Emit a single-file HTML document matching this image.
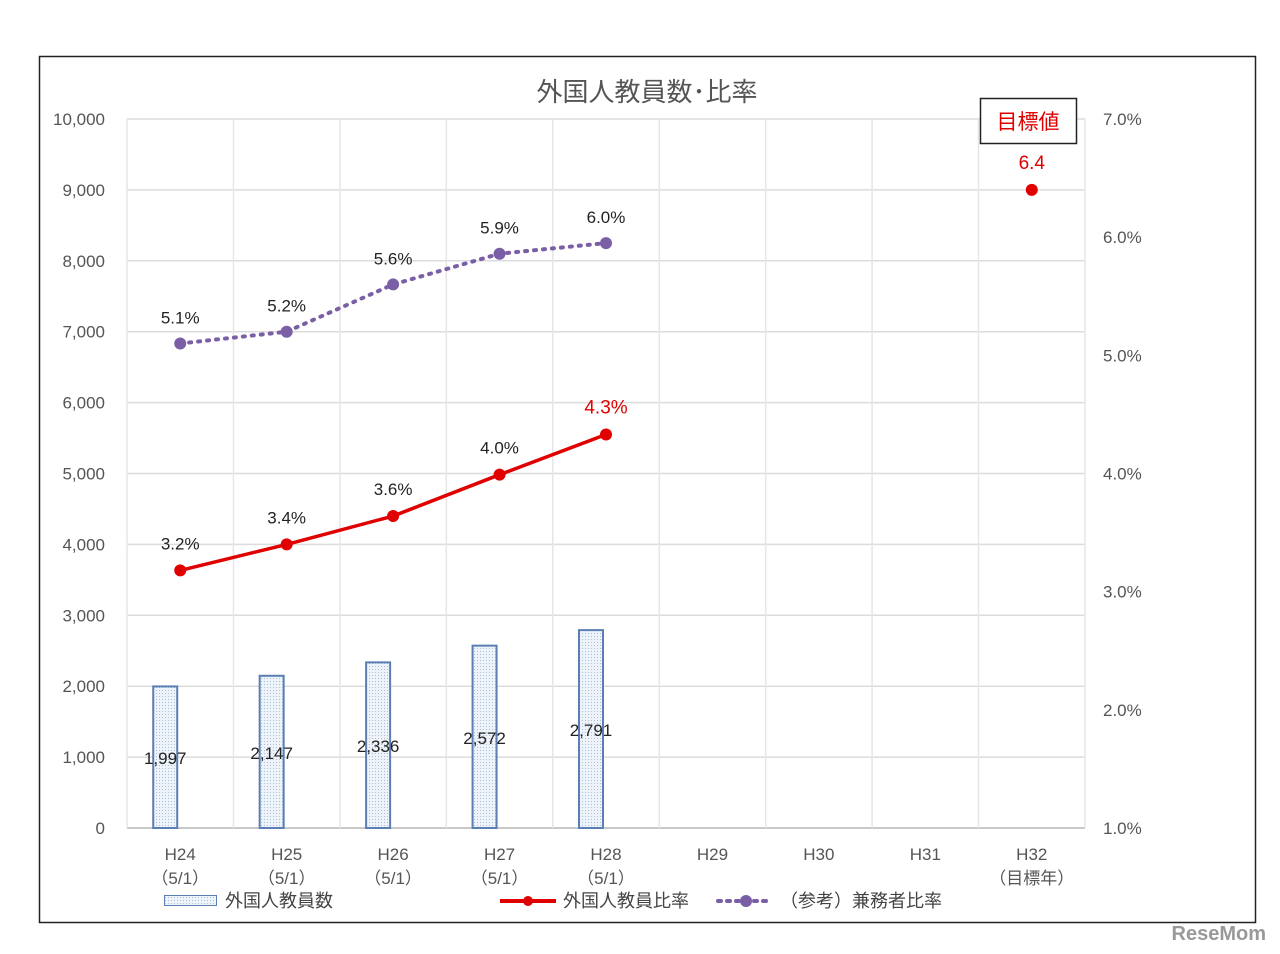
<!DOCTYPE html>
<html><head><meta charset="utf-8">
<style>
html,body{margin:0;padding:0;background:#fff;}
svg{display:block;font-family:"Liberation Sans","Noto Sans CJK JP",sans-serif;}
</style></head>
<body>
<svg id="chart" width="1280" height="954" viewBox="0 0 1280 954">
<defs>
<pattern id="dots" width="3" height="3" patternUnits="userSpaceOnUse">
<rect width="3" height="3" fill="#eef3f9"/>
<rect width="1" height="1" fill="#a9bfdc"/>
</pattern>
</defs>
<rect x="39.5" y="56.5" width="1216" height="866" fill="#fff" stroke="#222" stroke-width="1.5"/>
<text x="647" y="101" font-size="26" fill="#555" text-anchor="middle">外国人教員数･比率</text>
<g id="grid"></g>
<g id="bars"></g>
<g id="lines"></g>
<g id="labels"></g>
<rect x="980.5" y="98.5" width="96" height="45" fill="#fff" stroke="#222" stroke-width="1.5"/>
<text x="1028" y="129" font-size="21" fill="#e00000" text-anchor="middle">目標値</text>
<g>
<rect x="164.5" y="895.5" width="52" height="10" fill="url(#dots)" stroke="#5b7fb4"/>
<text x="225" y="907" font-size="18" fill="#444">外国人教員数</text>
<line x1="500" y1="901" x2="556" y2="901" stroke="#e00000" stroke-width="4"/>
<circle cx="528" cy="901" r="5" fill="#e00000"/>
<text x="563" y="907" font-size="18" fill="#444">外国人教員比率</text>
<line x1="718" y1="901" x2="772" y2="901" stroke="#7b5fa6" stroke-width="4" stroke-dasharray="3,6" stroke-linecap="round"/>
<circle cx="746" cy="901" r="6" fill="#7b5fa6"/>
<text x="780" y="907" font-size="18" fill="#444">（参考）兼務者比率</text>
</g>
<text x="1266" y="940" font-size="20" font-weight="bold" fill="#999" text-anchor="end">ReseMom</text>
</svg>
<script>
const categories=["H24","H25","H26","H27","H28","H29","H30","H31","H32"];
const subLabels=["（5/1）","（5/1）","（5/1）","（5/1）","（5/1）","","","","（目標年）"];
const teacherCounts=[1997,2147,2336,2572,2791];
const countLabels=["1,997","2,147","2,336","2,572","2,791"];
const teacherRatio=[3.18,3.40,3.64,3.99,4.33];
const teacherRatioLabels=["3.2%","3.4%","3.6%","4.0%","4.3%"];
const concurrentRatio=[5.10,5.20,5.60,5.86,5.95];
const concurrentRatioLabels=["5.1%","5.2%","5.6%","5.9%","6.0%"];
const targetRatio=6.4;
const leftTicks=[0,1000,2000,3000,4000,5000,6000,7000,8000,9000,10000];
const rightTicks=[1,2,3,4,5,6,7];

const X0=127,X1=1085,YB=828,YT=119;
const step=(X1-X0)/categories.length;
const xc=i=>X0+step*(i+0.5);
const yL=v=>YB-(v/10000)*(YB-YT);
const yR=v=>YB-((v-1)/6)*(YB-YT);
const NS="http://www.w3.org/2000/svg";
function mk(tag,attrs,parent,txt){const e=document.createElementNS(NS,tag);for(const k in attrs)e.setAttribute(k,attrs[k]);if(txt!==undefined)e.textContent=txt;document.getElementById(parent).appendChild(e);return e;}

leftTicks.forEach(v=>{
 const l=mk('line',{x1:X0,x2:X1,y1:yL(v),y2:yL(v),stroke:v===0?'#c8c8c8':'#dcdcdc','stroke-width':v===0?2:1.5},'grid');
 
 
 const t=mk('text',{x:105,y:yL(v)+6,'font-size':17,fill:'#555','text-anchor':'end'},'grid',v.toLocaleString('en-US'));
 
 
});
rightTicks.forEach(v=>{
 const t=mk('text',{x:1103,y:yR(v)+6,'font-size':17,fill:'#555'},'grid',v.toFixed(1)+'%');
 
 
});
for(let i=0;i<=categories.length;i++){
 const l=mk('line',{x1:X0+step*i,x2:X0+step*i,y1:YT,y2:YB,stroke:'#e6e6e6','stroke-width':1.5},'grid');
 
 
}
categories.forEach((c,i)=>{
 const t=mk('text',{x:xc(i),y:860,'font-size':17,fill:'#555','text-anchor':'middle'},'grid',c);
 
 
 if(subLabels[i]){const s=mk('text',{x:xc(i),y:884,'font-size':17,fill:'#555','text-anchor':'middle'},'grid',subLabels[i]);
 
 }
});
teacherCounts.forEach((v,i)=>{
 const bx=xc(i)-27;
 const r=mk('rect',{x:bx,y:yL(v),width:24,height:YB-yL(v),fill:'url(#dots)',stroke:'#5b7fb4','stroke-width':2},'bars');
 
 
 const t=mk('text',{x:bx+12,y:(yL(v)+YB)/2+7,'font-size':17,fill:'#222','text-anchor':'middle'},'labels',countLabels[i]);
 
 
});
const pp=concurrentRatio.map((v,i)=>xc(i)+','+yR(v)).join(' ');
const pl=mk('polyline',{points:pp,fill:'none',stroke:'#7b5fa6','stroke-width':4,'stroke-dasharray':'2,7','stroke-linecap':'round'},'lines');


concurrentRatio.forEach((v,i)=>{
 const c=mk('circle',{cx:xc(i),cy:yR(v),r:6,fill:'#7b5fa6'},'lines');
 
 
 const t=mk('text',{x:xc(i),y:yR(v)-20,'font-size':17,fill:'#222','text-anchor':'middle'},'labels',concurrentRatioLabels[i]);
 
 
});
const rp=teacherRatio.map((v,i)=>xc(i)+','+yR(v)).join(' ');
const rl=mk('polyline',{points:rp,fill:'none',stroke:'#e00000','stroke-width':3.5},'lines');


teacherRatio.forEach((v,i)=>{
 const last=i===teacherRatio.length-1;
 const c=mk('circle',{cx:xc(i),cy:yR(v),r:6,fill:'#e00000'},'lines');
 
 
 const t=mk('text',{x:xc(i),y:yR(v)-21,'font-size':last?19:17,fill:last?'#e00000':'#222','text-anchor':'middle'},'labels',teacherRatioLabels[i]);
 
 
});
const tc=mk('circle',{cx:xc(8),cy:yR(targetRatio),r:6,fill:'#e00000'},'lines');


const tt=mk('text',{x:xc(8),y:yR(targetRatio)-21,'font-size':19,fill:'#e00000','text-anchor':'middle'},'labels',String(targetRatio));


</script>
</body></html>
